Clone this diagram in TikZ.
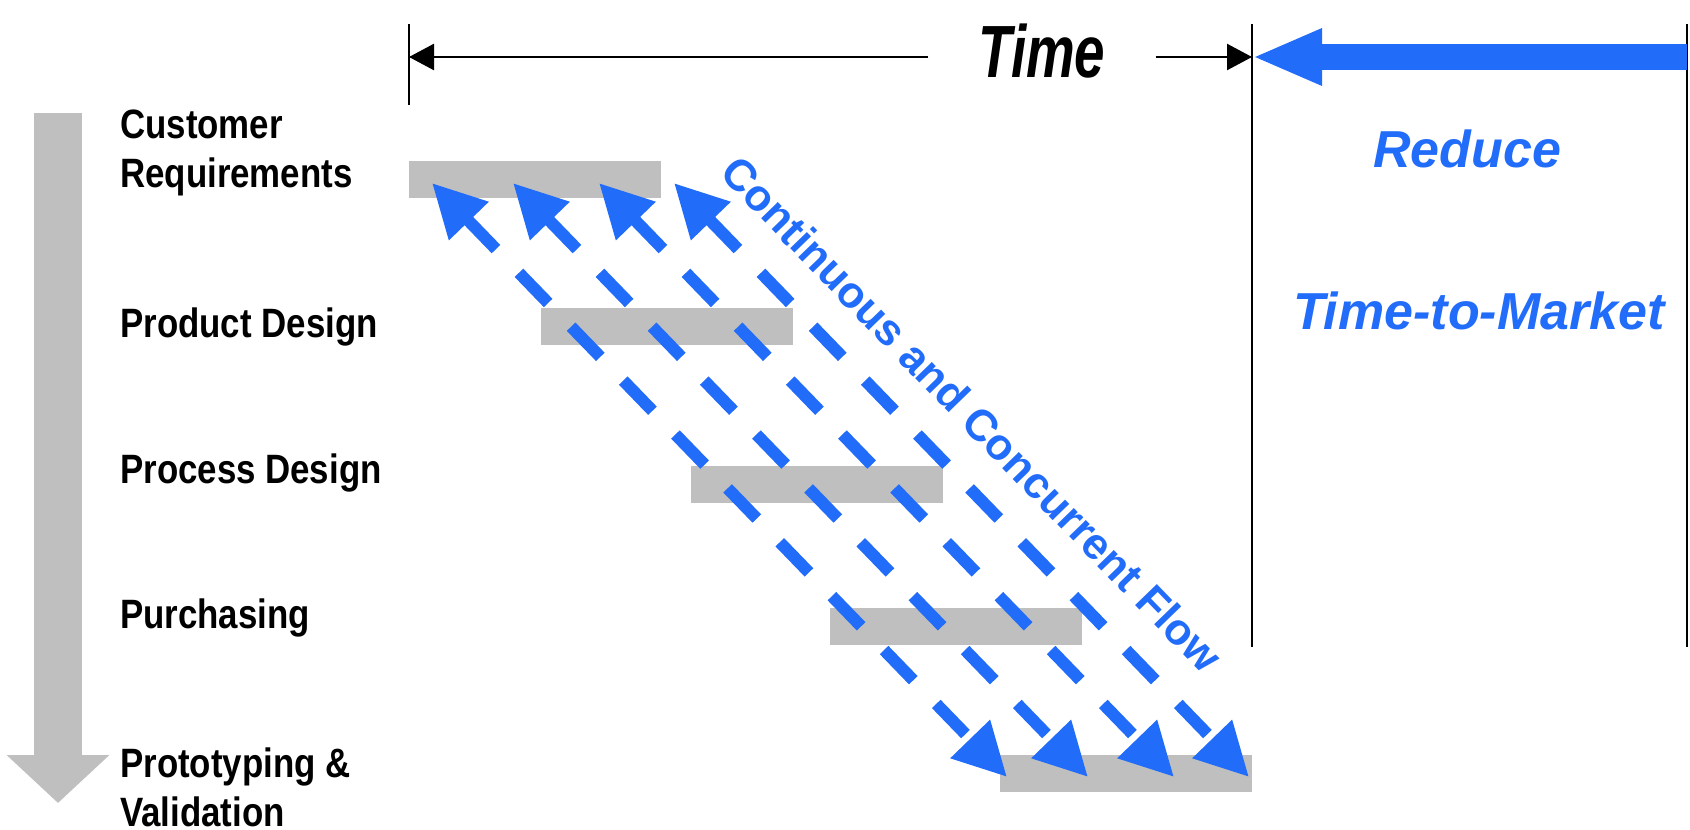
\documentclass[tikz,border=0pt]{standalone}
\usepackage{fontspec}
\setmainfont{Liberation Sans}
\newfontfamily\narrowsf[FakeStretch=0.85]{Liberation Sans}
\newfontfamily\timesf[FakeStretch=0.74]{Liberation Sans}
\usetikzlibrary{arrows.meta,positioning}
\definecolor{flowblue}{RGB}{34,108,250}
\definecolor{bargray}{RGB}{191,191,191}

\begin{document}
\begin{tikzpicture}[x=1pt,y=-1pt,
    bar/.style={fill=bargray,minimum width=252pt,minimum height=37pt,inner sep=0pt,anchor=north west},
    phase/.style={inner sep=0pt,anchor=base west,align=left,
      font=\narrowsf\bfseries\fontsize{41}{49}\selectfont},
    flow/.style={flowblue,line width=12pt,dash pattern=on 42pt off 33pt,
      {Triangle[length=53pt,width=52pt]}-{Triangle[length=53pt,width=52pt]}},
    tick/.style={line width=2.5pt},
    span/.style={line width=2.5pt,-{Triangle[length=25pt,width=26pt]}},
    bluetext/.style={flowblue,anchor=base,font=\bfseries\itshape\fontsize{52}{60}\selectfont}]
  \useasboundingbox (0,0) rectangle (1690,830);

  % phases down the left
  \draw[bargray,line width=48pt,-{Triangle[length=48pt,width=100pt]}] (58,113) -- (58,803);
  \node[phase] (lbl_1) at (120,187) {Customer\\Requirements};
  \node[phase] (lbl_2) at (120,337) {Product Design};
  \node[phase] (lbl_3) at (120,483) {Process Design};
  \node[phase] (lbl_4) at (120,628) {Purchasing};
  \node[phase] (lbl_5) at (120,826) {Prototyping \&\\Validation};

  % time axis
  \coordinate (tick_l) at (409,57);
  \coordinate (tick_r) at (1252,57);
  \draw[tick] (409,24) -- (409,105);
  \draw[tick] (1252,24) -- (1252,647);
  \draw[tick] (1687,24) -- (1687,647);
  \node[font=\timesf\bfseries\itshape\fontsize{74}{80}\selectfont,
        inner xsep=50pt,inner ysep=0pt,anchor=base] (time) at (1042,77) {Time};
  \draw[span] (time.west |- tick_l) -- (tick_l);
  \draw[span] (time.east |- tick_r) -- (tick_r);

  \draw[flowblue,line width=26pt,-{Triangle[length=70pt,width=52pt]}] (1687,57) -- (tick_r);
  \node[bluetext] (reduce) at (1467,167) {Reduce};
  \node[bluetext] (ttm) at (1479,329) {Time-to-Market};

  % bars
  \node[bar] (bar_1) at (409,161) {};
  \node[bar] (bar_2) at (541,308) {};
  \node[bar] (bar_3) at (691,466) {};
  \node[bar] (bar_4) at (830,608) {};
  \node[bar] (bar_5) at (1000,755) {};

  % concurrent flow
  \foreach \i/\x in {1/432,2/513,3/599,4/674} {
    \coordinate (up_\i) at (\x,183);
    \coordinate (dn_\i) at (\x+575,777);
    \draw[flow] (up_\i) -- (dn_\i);
  }
  \node[flowblue,font=\bfseries\fontsize{44}{50}\selectfont,rotate=-45.9] (flow_lbl)
    at (972,414) {Continuous and Concurrent Flow};
\end{tikzpicture}
\end{document}
